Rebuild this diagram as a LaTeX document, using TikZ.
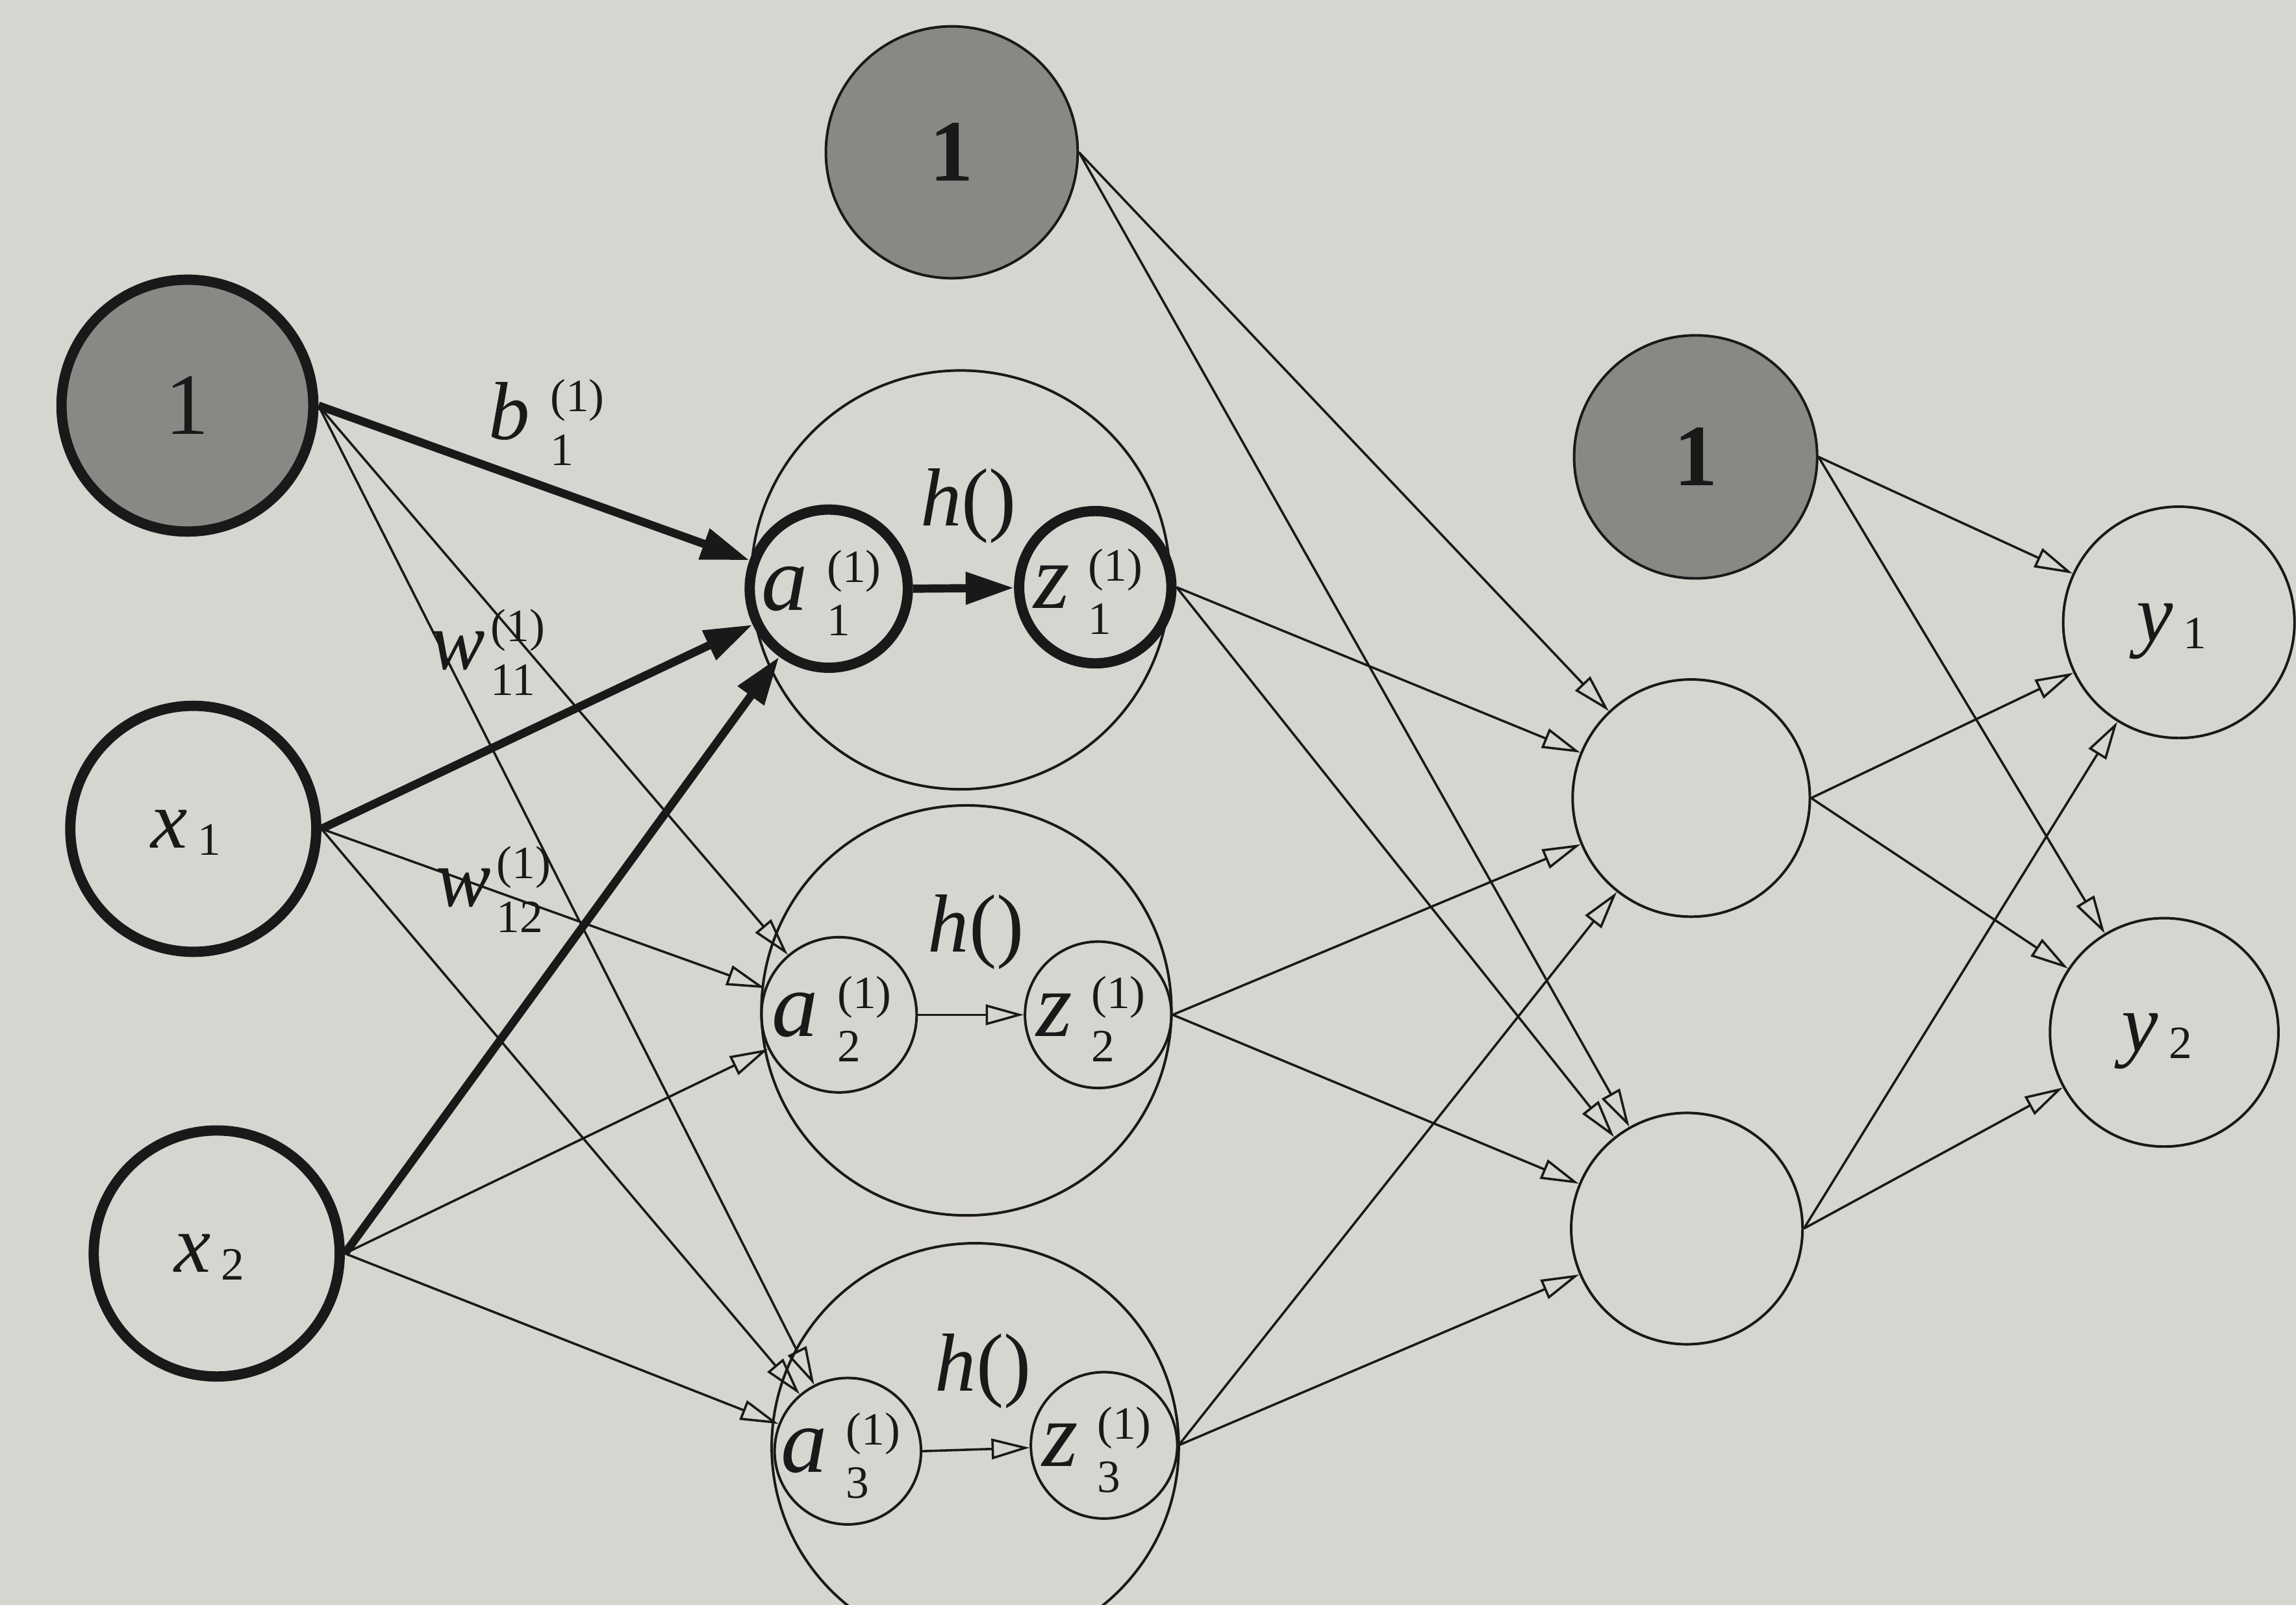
\documentclass[tikz,border=0pt]{standalone}
\usepackage{fontspec}
\setmainfont{Liberation Serif}
\usepackage{tikz}
\usetikzlibrary{arrows.meta}
\definecolor{paper}{RGB}{215,213,208}
\definecolor{biasgray}{RGB}{138,136,133}
\definecolor{ink}{RGB}{25,25,25}

% stacked superscript / subscript as printed in the book
\newcommand{\stk}[2]{{\fontsize{9}{10.4}\selectfont\begin{tabular}{@{}l@{}}#1\\#2\end{tabular}}}
\newcommand{\vlab}[3]{\textit{#1}\hspace{#3}\stk{(1)}{#2}}
\newcommand{\inlab}[1]{\makebox[0pt]{\raisebox{-0.5ex}[0pt][0pt]{#1}\hspace{1mm}}}
\newcommand{\idx}[2]{\textit{#1}\hspace{0.7mm}\raisebox{-0.5mm}{\fontsize{9}{10}\selectfont #2}}

\begin{document}
\begin{tikzpicture}[x=0.1mm, y=-0.1mm,
  every node/.style={text=ink},
  neuron/.style={circle, draw=ink, line width=0.5pt, inner sep=0pt, font=\fontsize{18}{21}\selectfont},
  strong/.style={neuron, line width=2pt},
  bias/.style={neuron, fill=biasgray, font=\fontsize{17}{20}\selectfont},
  edge/.style={draw=ink, line width=0.45pt, -{Triangle[open, length=2.6mm, width=1.4mm]}},
  strongedge/.style={draw=ink, line width=1.6pt, -{Triangle[length=3.3mm, width=2.1mm]}},
  wlab/.style={font=\fontsize{16}{19}\selectfont, inner sep=0pt, anchor=base west}]
\fill[paper] (0,0) rectangle (1568,1096);
\useasboundingbox (0,0) rectangle (1568,1096);

% hidden layer groups
\node[neuron, minimum size=28.6mm] (g1) at (656,396) {};
\node[neuron, minimum size=28mm] (g2) at (660,690) {};
\node[neuron, minimum size=27.8mm] (g3) at (666,988) {};

% input layer
\node[bias, line width=2pt, minimum size=17.2mm] (b0) at (128,277) {1};
\node[strong, minimum size=16.8mm, font=\fontsize{16}{19}\selectfont] (x1) at (132,566) {\inlab{\idx{x}{1}}};
\node[strong, minimum size=16.8mm, font=\fontsize{16}{19}\selectfont] (x2) at (148,856) {\inlab{\idx{x}{2}}};

% first layer
\node[bias, minimum size=17.2mm] (b1) at (650,104) {\textbf{1}};
\node[strong, minimum size=10.8mm] (a1) at (566,402) {\inlab{\vlab{a}{1}{1.3mm}}};
\node[strong, minimum size=10.4mm] (z1) at (748,401) {\inlab{\vlab{z}{1}{1.3mm}}};
\node[neuron, minimum size=10.6mm] (a2) at (573,693) {\inlab{\vlab{a}{2}{1.3mm}}};
\node[neuron, minimum size=10mm] (z2) at (750,693) {\inlab{\vlab{z}{2}{1.3mm}}};
\node[neuron, minimum size=10mm] (a3) at (579,991) {\inlab{\vlab{a}{3}{1.3mm}}};
\node[neuron, minimum size=10mm] (z3) at (754,987) {\inlab{\vlab{z}{3}{1.3mm}}};

% second layer
\node[bias, minimum size=16.6mm] (b2) at (1158,312) {\textbf{1}};
\node[neuron, minimum size=16.2mm] (h1) at (1155,545) {};
\node[neuron, minimum size=15.8mm] (h2) at (1152,839) {};

% output layer
\node[neuron, minimum size=15.8mm, font=\fontsize{16}{19}\selectfont] (y1) at (1488,425) {\inlab{\idx{y}{1}}};
\node[neuron, minimum size=15.6mm, font=\fontsize{16}{19}\selectfont] (y2) at (1478,705) {\inlab{\idx{y}{2}}};

% thin connections
\foreach \s in {b0,x1,x2}
  \foreach \t in {a2,a3}
    \draw[edge] (\s.east) -- (\t);
\draw[edge] (a2.east) -- (z2);
\draw[edge] (a3.east) -- (z3);
\foreach \s in {b1,z1,z2,z3}
  \foreach \t in {h1,h2}
    \draw[edge] (\s.east) -- (\t);
\foreach \s in {b2,h1,h2}
  \foreach \t in {y1,y2}
    \draw[edge] (\s.east) -- (\t);

% highlighted path into a1
\draw[strongedge] (b0.east) -- (a1);
\draw[strongedge] (x1.east) -- (a1);
\draw[strongedge] (x2.east) -- (a1);
\draw[strongedge] (a1.east) -- (z1);

% labels
\node[wlab] (lb) at (333,300) {\vlab{b}{1}{1.4mm}};
\node[wlab] (lw1) at (293,457) {\vlab{w}{11}{0.4mm}};
\node[wlab] (lw2) at (297,619) {\vlab{w}{12}{0.4mm}};
\node[wlab] (lh1) at (628,359) {\textit{h}()};
\node[wlab] (lh2) at (633,650) {\textit{h}()};
\node[wlab] (lh3) at (638,950) {\textit{h}()};
\end{tikzpicture}
\end{document}
